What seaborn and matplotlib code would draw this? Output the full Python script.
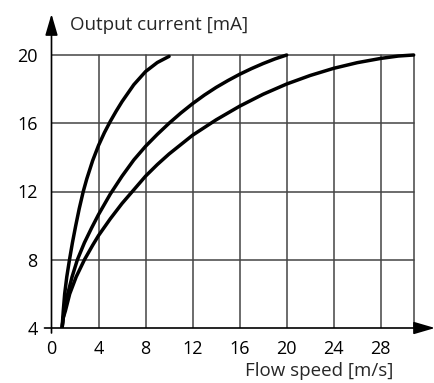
import pandas as pd
import matplotlib.pyplot as plt
import seaborn as sns

# curves (flow speed m/s -> output mA)
speed_a = [0.9, 1.0, 1.12, 1.3, 1.53, 1.78, 2.06, 2.36, 2.7, 3.0, 3.5, 4.0, 4.5,
           5.0, 5.5, 6.0, 7.0, 8.0, 9.0, 10.0]
current_a = [4.0, 5.0, 6.0, 7.0, 8.0, 9.0, 10.0, 11.0, 12.0, 12.74, 13.81, 14.7, 15.45,
             16.11, 16.71, 17.27, 18.26, 19.03, 19.56, 19.92]

speed_b = [0.9, 1.0, 1.1, 1.38, 1.75, 2.2, 2.8, 3.4, 4.0, 5.0, 6.0, 7.0, 8.0, 9.0,
           10.0, 11.0, 12.0, 13.0, 14.0, 15.0, 16.0, 17.0, 18.0, 19.0, 20.0]
current_b = [4.0, 4.6, 5.0, 6.0, 7.0, 8.0, 9.0, 9.85, 10.65, 11.85, 12.9, 13.85, 14.65,
             15.35, 16.0, 16.6, 17.15, 17.65, 18.1, 18.5, 18.87, 19.2, 19.5, 19.77, 20.0]

speed_c = [0.9, 1.0, 1.18, 1.55, 2.1, 2.8, 3.5, 4.0, 5.0, 6.0, 7.0, 8.0, 9.0, 10.0,
           12.0, 14.0, 16.0, 18.0, 20.0, 22.0, 24.0, 26.0, 28.0, 29.5, 30.8]
current_c = [4.0, 4.6, 5.0, 6.0, 7.0, 8.0, 8.85, 9.42, 10.4, 11.3, 12.1, 12.9, 13.58,
             14.2, 15.3, 16.2, 17.0, 17.7, 18.3, 18.8, 19.22, 19.55, 19.8, 19.94, 20.0]

x_ticks = [0, 4, 8, 12, 16, 20, 24, 28]
y_ticks = [4, 8, 12, 16, 20]
x_end = 30.8

df = pd.concat([
    pd.DataFrame({"speed": speed_a, "current": current_a, "curve": "a"}),
    pd.DataFrame({"speed": speed_b, "current": current_b, "curve": "b"}),
    pd.DataFrame({"speed": speed_c, "current": current_c, "curve": "c"}),
])

sns.set_theme(style="white")
plt.rcParams['font.family'] = ['Open Sans', 'DejaVu Sans']

W, H = 435, 383
fig = plt.figure(figsize=(W / 100, H / 100), dpi=100)
x0, y0 = 51.5, 328        # pixel of (0, 4)
x1, y1 = 435, 14          # pixel of arrow tips
ax = fig.add_axes([x0 / W, (H - y0) / H, (x1 - x0) / W, (y0 - y1) / H])
px_x = (380.7 - 98.5) / 24
px_y = (328 - 55) / 16
ax.set_xlim(0, (x1 - x0) / px_x)
ax.set_ylim(4, 4 + (y0 - y1) / px_y)
for s in ax.spines.values():
    s.set_visible(False)

# grid
grid_c = "#444444"
for yv in y_ticks[1:]:
    ax.plot([0, x_end], [yv, yv], color=grid_c, lw=1.1, zorder=1)
for xv in x_ticks[1:] + [x_end]:
    ax.plot([xv, xv], [4, 20], color=grid_c, lw=1.1, zorder=1)

sns.lineplot(data=df, x="speed", y="current", hue="curve", units="curve",
             estimator=None, sort=False, palette=["black"] * 3, lw=2.5,
             legend=False, ax=ax, zorder=3)
for l in ax.lines:
    l.set_solid_capstyle("round")
    l.set_solid_joinstyle("round")

# axes with arrowheads
arr = dict(arrowstyle="-|>,head_length=1.3,head_width=0.38", color="black",
           lw=1.2, shrinkA=0, shrinkB=0, mutation_scale=10)
ax.annotate("", xy=(0, ax.get_ylim()[1]), xytext=(0, 4 - 5 / px_y),
            arrowprops=arr, annotation_clip=False)
ax.annotate("", xy=(ax.get_xlim()[1], 4), xytext=(-7 / px_x, 4),
            arrowprops=arr, annotation_clip=False)

ax.set_xticks(x_ticks)
ax.set_yticks(y_ticks)
ax.tick_params(length=0, labelsize=13, colors="black")
ax.tick_params(axis="x", pad=9)
ax.tick_params(axis="y", pad=10)
ax.set_xlabel("")
ax.set_ylabel("")

fig.text(70 / W, 1 - 25 / H, "Output current [mA]", fontsize=13.5,
         ha="left", va="center")
fig.text(393 / W, 1 - 371 / H, "Flow speed [m/s]", fontsize=13.5,
         ha="right", va="center")

fig.savefig("out.png", dpi=100)
